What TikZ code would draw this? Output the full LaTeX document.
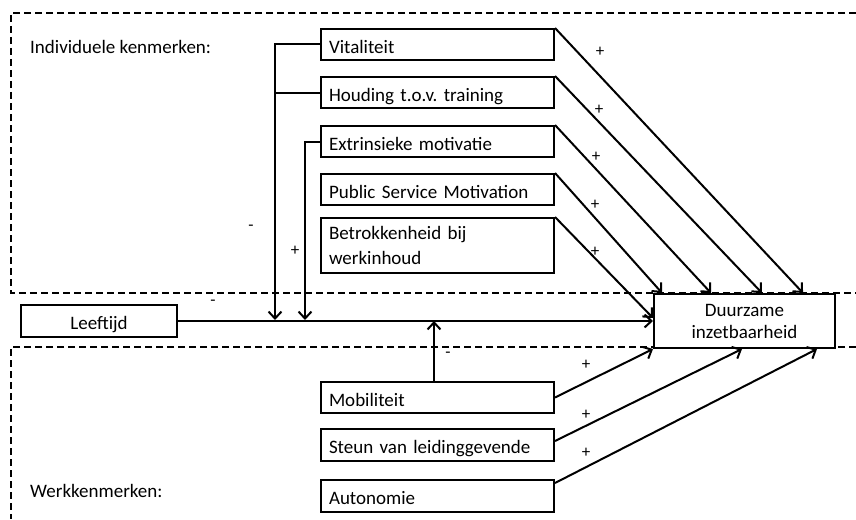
\documentclass[tikz,border=0pt]{standalone}
\usepackage{fontspec}
\setmainfont{Carlito}
\usetikzlibrary{arrows.meta,calc}
\begin{document}
\begin{tikzpicture}[x=1pt,y=-1pt,
  every node/.style={font=\fontsize{19}{21}\selectfont\frenchspacing},
  conn/.style={line width=2pt,line join=miter},
  arr/.style={conn,-{Straight Barb[length=7pt,width=13pt,line width=2pt]}},
  dsh/.style={line width=1.8pt,dash pattern=on 7pt off 4pt},
  bbox/.style={draw,line width=2pt,fill=white,anchor=north west,inner sep=0pt},
  ibox/.style={bbox,text width=217pt,inner xsep=8pt,align=left,minimum height=31pt},
  one/.style={text height=17pt,text depth=0pt},
  cbox/.style={bbox,align=center},
  sgn/.style={inner sep=0pt,font=\fontsize{17}{18}\selectfont}]
\useasboundingbox (0,0) rectangle (856,519);
% dashed regions
\draw[dsh] (856,13) -- (11,13) -- (11,293) -- (856,293);
\draw[dsh] (856,347) -- (11,347) -- (11,519);
% labels of regions
\node[anchor=base west,inner sep=0pt] (indiv) at (30,53) {Individuele kenmerken:};
\node[anchor=base west,inner sep=0pt] (werk) at (30,497) {Werkkenmerken:};
% boxes
\node[ibox,one] (vit) at (320,28) {Vitaliteit};
\node[ibox,one] (hou) at (320,76) {Houding t.o.v. training};
\node[ibox,one] (ext) at (320,125) {Extrinsieke motivatie};
\node[ibox,one] (psm) at (320,173) {Public Service Motivation};
\node[ibox,minimum height=55pt,font=\fontsize{19}{25}\selectfont] (bet) at (320,217) {Betrokkenheid bij\\werkinhoud};
\node[cbox,one,minimum width=156pt,minimum height=32pt] (lee) at (20,304) {Leeftijd};
\node[cbox,minimum width=181pt,minimum height=54pt,font=\fontsize{19}{22}\selectfont] (dur) at (653,293) {Duurzame\\inzetbaarheid};
\node[ibox,one] (mob) at (320,381) {Mobiliteit};
\node[ibox,one,minimum height=32pt] (ste) at (320,428) {Steun van leidinggevende};
\node[ibox,one,minimum height=32pt] (aut) at (320,479) {Autonomie};
% moderation lines
\coordinate (c1) at (275,320);
\coordinate (c2) at (305,320);
\draw[arr] (vit.west) -| (c1);
\draw[conn] (hou.west) -- (hou.west -| c1);
\draw[arr] (ext.west) -| (c2);
\coordinate (m1) at ([xshift=114pt]mob.north west);
\draw[arr] (m1) -- (m1 |- lee.east);
% main effect
\draw[arr] (lee.east) -- (lee.east -| dur.west);
% top diagonals
\draw[arr] (vit.north east) -- ([xshift=150pt]dur.north west);
\draw[arr] (hou.north east) -- ([xshift=109pt]dur.north west);
\draw[arr] (ext.north east) -- ([xshift=58pt]dur.north west);
\draw[arr] (psm.north east) -- ([xshift=9pt]dur.north west);
\draw[arr] (bet.north east) -- ([yshift=3pt]dur.west);
% bottom diagonals
\draw[arr] (mob.east) -- (dur.south west);
\draw[arr] ([yshift=4pt]ste.east) -- ([xshift=89pt]dur.south west);
\draw[arr] ([yshift=-4pt]aut.north east) -- ([xshift=164pt]dur.south west);
% signs
\node[sgn] (p1) at (600,52) {+};
\node[sgn] (p2) at (599,110) {+};
\node[sgn] (p3) at (596,157) {+};
\node[sgn] (p4) at (595,205) {+};
\node[sgn] (p5) at (595,252) {+};
\node[sgn] (p6) at (586,365) {+};
\node[sgn] (p7) at (586,415) {+};
\node[sgn] (p8) at (586,453) {+};
\node[sgn] (m2) at (251,228) {-};
\node[sgn] (p9) at (295,251) {+};
\node[sgn] (m3) at (213,303) {-};
\node[sgn] (m4) at (448,355) {-};
\end{tikzpicture}
\end{document}
